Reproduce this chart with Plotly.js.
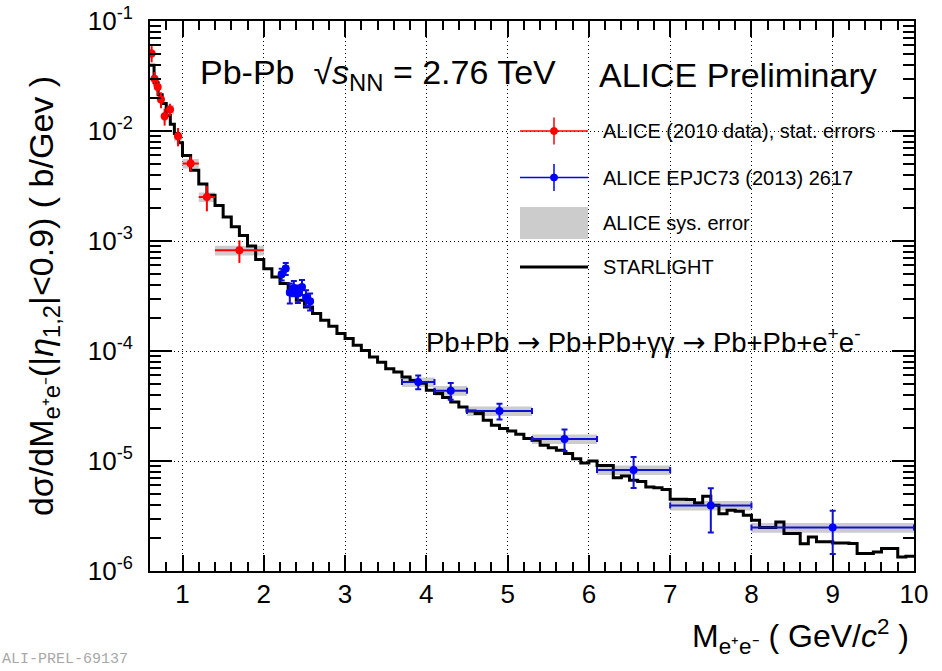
<!DOCTYPE html>
<html><head><meta charset="utf-8">
<script src="https://cdn.plot.ly/plotly-3.0.1.min.js"></script>
<style>html,body{margin:0;padding:0;background:#fff;} #chart{width:942px;height:671px;}</style>
</head><body><div id="chart"></div>
<script>
// ---------------- data ----------------
// ALICE 2010 data (red), stat. errors
const redX = [0.62, 0.655, 0.695, 0.735, 0.78, 0.845, 0.945, 1.1, 1.3, 1.7];
const redY = [0.0506, 0.0299, 0.0251, 0.0193, 0.0136, 0.0157, 0.00895, 0.00506, 0.00251, 0.000822];
const redStat = [0.0085, 0.0045, 0.004, 0.0032, 0.0024, 0.002, 0.0017, 0.0008, 0.00065, 0.00019];
const redHalfWidth = [0.02, 0.0175, 0.02, 0.02, 0.025, 0.05, 0.05, 0.1, 0.1, 0.3];
const redSysRel = [0.1, 0.1, 0.1, 0.1, 0.1, 0.1, 0.1, 0.1, 0.1, 0.1];

// ALICE EPJC73 (2013) 2617 (blue)
const blueX = [2.22, 2.27, 2.32, 2.37, 2.42, 2.47, 2.52, 2.57, 3.9, 4.3, 4.9, 5.7, 6.55, 7.5, 9.0];
const blueY = [4.98e-4, 5.61e-4, 3.40e-4, 3.74e-4, 3.33e-4, 3.82e-4, 3.06e-4, 2.83e-4,
               5.23e-5, 4.36e-5, 2.85e-5, 1.585e-5, 8.28e-6, 3.94e-6, 2.48e-6];
const blueStat = [6e-5, 7e-5, 7e-5, 6e-5, 6e-5, 6e-5, 5e-5, 5e-5,
                  7.5e-6, 7.5e-6, 4.7e-6, 3.5e-6, 2.6e-6, 1.7e-6, 1.05e-6];
const blueHalfWidth = [0.025, 0.025, 0.025, 0.025, 0.025, 0.025, 0.025, 0.025,
                       0.2, 0.2, 0.4, 0.4, 0.45, 0.5, 1.0];
const blueSysRel = [0, 0, 0, 0, 0, 0, 0, 0, 0.1, 0.1, 0.1, 0.1, 0.1, 0.1, 0.1];

// STARLIGHT histogram: bin edges and bin contents
const starEdges = [0.6, 0.65, 0.7, 0.75, 0.8, 0.85, 0.9, 0.95, 1.0,
  1.1, 1.2, 1.3, 1.4, 1.5, 1.6, 1.7, 1.8, 1.9, 2.0,
  2.1, 2.2, 2.3, 2.4, 2.5, 2.6, 2.7, 2.8, 2.9, 3.0,
  3.1, 3.2, 3.3, 3.4, 3.5, 3.6, 3.7, 3.8, 3.9, 4.0,
  4.1, 4.2, 4.3, 4.4, 4.5, 4.6, 4.7, 4.8, 4.9, 5.0,
  5.1, 5.2, 5.3, 5.4, 5.5, 5.6, 5.7, 5.8, 5.9, 6.0,
  6.1, 6.2, 6.3, 6.4, 6.5, 6.6, 6.7, 6.8, 6.9, 7.0,
  7.1, 7.2, 7.3, 7.4, 7.5, 7.6, 7.7, 7.8, 7.9, 8.0,
  8.1, 8.2, 8.3, 8.4, 8.5, 8.6, 8.7, 8.8, 8.9, 9.0,
  9.1, 9.2, 9.3, 9.4, 9.5, 9.6, 9.7, 9.8, 9.9, 10.0];
const starVals = [0.0395, 0.0275, 0.0214, 0.0178, 0.0138, 0.0115, 0.0095, 0.0078,
  0.0060, 0.0044, 0.0033, 0.0026, 0.0021, 0.00165, 0.00135, 0.00112, 0.00090, 0.00068,
  0.00056, 0.00047, 0.00041, 0.000333, 0.000289, 0.000251, 0.000219, 0.00019, 0.000168, 0.000144,
  0.00013, 0.000113, 0.000101, 8.8e-5, 7.9e-5, 6.9e-5, 6.45e-5, 5.8e-5, 5.4e-5, 5.1e-5,
  4.4e-5, 4.1e-5, 3.77e-5, 3.44e-5, 3.09e-5, 2.85e-5, 2.7e-5, 2.35e-5, 2.11e-5, 1.97e-5,
  1.87e-5, 1.75e-5, 1.6e-5, 1.54e-5, 1.39e-5, 1.32e-5, 1.25e-5, 1.17e-5, 1.05e-5, 9.6e-6,
  1.0e-5, 9.1e-6, 9.1e-6, 7.06e-6, 7.3e-6, 6.68e-6, 6.5e-6, 5.8e-6, 5.7e-6, 5.5e-6,
  4.5e-6, 4.5e-6, 4.46e-6, 4.15e-6, 4.78e-6, 3.95e-6, 3.32e-6, 3.56e-6, 3.5e-6, 3.21e-6,
  2.89e-6, 2.48e-6, 2.48e-6, 2.79e-6, 2.19e-6, 2.19e-6, 1.77e-6, 2.04e-6, 1.84e-6, 1.84e-6,
  1.80e-6, 1.80e-6, 1.78e-6, 1.44e-6, 1.44e-6, 1.49e-6, 1.6e-6, 1.6e-6, 1.34e-6, 1.36e-6];

// axis ticks
const yTickVals = [1e-6, 1e-5, 1e-4, 1e-3, 1e-2, 1e-1];
const yTickText = ['10<sup>-6</sup>', '10<sup>-5</sup>', '10<sup>-4</sup>', '10<sup>-3</sup>', '10<sup>-2</sup>', '10<sup>-1</sup>'];

// legend labels
const legendLabels = ['ALICE (2010 data), stat. errors', 'ALICE EPJC73 (2013) 2617', 'ALICE sys. error', 'STARLIGHT'];

// ---------------- build traces ----------------
const sysX = [], sysBase = [], sysH = [], sysW = [];
function addSys(xs, ys, hw, rel) {
  for (let i = 0; i < xs.length; i++) {
    if (rel[i] <= 0) continue;
    sysX.push(xs[i]);
    sysBase.push(ys[i] * (1 - rel[i]));
    sysH.push(ys[i] * 2 * rel[i]);
    sysW.push(2 * hw[i]);
  }
}
addSys(redX, redY, redHalfWidth, redSysRel);
addSys(blueX, blueY, blueHalfWidth, blueSysRel);

const traces = [
  { type: 'bar', x: sysX, y: sysH, base: sysBase, width: sysW,
    marker: { color: '#cccccc', line: { width: 0 } }, showlegend: false, hoverinfo: 'skip', name: 'ALICE sys. error' },
  { type: 'scatter', mode: 'lines', x: starEdges, y: starVals.concat([starVals[starVals.length - 1]]),
    line: { shape: 'hv', color: '#000000', width: 3 }, showlegend: false, name: 'STARLIGHT' },
  { type: 'scatter', mode: 'markers', x: redX, y: redY, name: legendLabels[0], showlegend: false,
    marker: { color: '#ff0000', size: 8 },
    error_y: { type: 'data', array: redStat, color: '#ff0000', thickness: 2, width: 0 },
    error_x: { type: 'data', array: redHalfWidth, color: '#ff0000', thickness: 2, width: 0 } },
  { type: 'scatter', mode: 'markers', x: blueX, y: blueY, name: legendLabels[1], showlegend: false,
    marker: { color: '#0000ff', size: 8 },
    error_y: { type: 'data', array: blueStat, color: '#1010d0', thickness: 2, width: 3 },
    error_x: { type: 'data', array: blueHalfWidth, color: '#1010d0', thickness: 2, width: 3 } }
];

// ---------------- layout ----------------
const W = 942, H = 671, L = 150, R = 28, T = 21, B = 100;
const pw = W - L - R, ph = H - T - B;
const px = v => (v - L) / pw;          // pixel -> paper x
const py = v => (H - B - v) / ph;      // pixel -> paper y

const FONT = 'Liberation Sans, Arial, Helvetica, sans-serif';
const ARROW = '<span style="font-family:DejaVu Sans">→</span>';
const shapes = [];
const annotations = [];

// legend (drawn by hand, ROOT style)
const lx0 = 520, lx1 = 588, lxc = 554, ltx = 601;
const rows = [131, 177.5, 223, 267];
function errLegend(yc, col) {
  shapes.push({ type: 'line', xref: 'paper', yref: 'paper', x0: px(lx0), x1: px(lx1), y0: py(yc), y1: py(yc), line: { color: col, width: 1.5 } });
  shapes.push({ type: 'line', xref: 'paper', yref: 'paper', x0: px(lxc), x1: px(lxc), y0: py(yc - 13.5), y1: py(yc + 13.5), line: { color: col, width: 1.5 } });
  shapes.push({ type: 'circle', xref: 'paper', yref: 'paper', x0: px(lxc - 3.5), x1: px(lxc + 3.5), y0: py(yc - 3.5), y1: py(yc + 3.5), fillcolor: col, line: { color: col, width: 1 } });
}
errLegend(rows[0], '#ff0000');
errLegend(rows[1], '#0000ff');
shapes.push({ type: 'rect', xref: 'paper', yref: 'paper', x0: px(lx0), x1: px(lx1), y0: py(rows[2] - 16), y1: py(rows[2] + 16), fillcolor: '#cccccc', line: { width: 0 } });
shapes.push({ type: 'line', xref: 'paper', yref: 'paper', x0: px(lx0), x1: px(lx1), y0: py(rows[3]), y1: py(rows[3]), line: { color: '#000000', width: 3 } });
legendLabels.forEach((t, i) => annotations.push({
  xref: 'paper', yref: 'paper', x: px(ltx), y: py(rows[i]), xanchor: 'left', yanchor: 'middle',
  text: t, showarrow: false, font: { family: FONT, size: 20, color: '#000' }
}));

// labels on the plot
annotations.push({ xref: 'paper', yref: 'paper', x: px(198), y: py(75), xanchor: 'left', yanchor: 'middle', showarrow: false,
  text: 'Pb-Pb  √<i>s</i><sub>NN</sub> = 2.76 TeV', font: { family: FONT, size: 34, color: '#000' } });
annotations.push({ xref: 'paper', yref: 'paper', x: px(597), y: py(75), xanchor: 'left', yanchor: 'middle', showarrow: false,
  text: 'ALICE Preliminary', font: { family: FONT, size: 34, color: '#000' } });
annotations.push({ xref: 'paper', yref: 'paper', x: px(424), y: py(340), xanchor: 'left', yanchor: 'middle', showarrow: false,
  text: 'Pb+Pb ' + ARROW + ' Pb+Pb+γγ ' + ARROW + ' Pb+Pb+e<sup>+</sup>e<sup>-</sup>', font: { family: FONT, size: 27.5, color: '#000' } });
// x-axis title (ROOT puts it at the right end)
annotations.push({ xref: 'paper', yref: 'paper', x: px(911), y: py(636), xanchor: 'right', yanchor: 'middle', showarrow: false,
  text: 'M<sub>e⁺e⁻</sub> ( GeV/<i>c</i><sup>2</sup> )', font: { family: FONT, size: 32, color: '#000' } });
// preliminary figure id
annotations.push({ xref: 'paper', yref: 'paper', x: px(0), y: py(670), xanchor: 'left', yanchor: 'bottom', showarrow: false,
  text: 'ALI-PREL-69137', font: { family: 'Liberation Mono, Courier New, monospace', size: 15, color: '#a8a8a8' } });

const axisCommon = {
  showline: true, linecolor: '#000', linewidth: 2, mirror: 'allticks',
  ticks: 'inside', tickcolor: '#000', tickwidth: 2,
  showgrid: true, gridcolor: '#000', gridwidth: 1, griddash: '1px,3px',
  zeroline: false, tickfont: { family: FONT, size: 26, color: '#000' }
};

const layout = {
  width: W, height: H,
  margin: { l: L, r: R, t: T, b: B, pad: 0 },
  paper_bgcolor: '#fff', plot_bgcolor: '#fff',
  showlegend: false, barmode: 'overlay',
  font: { family: FONT, color: '#000' },
  xaxis: Object.assign({}, axisCommon, {
    range: [0.6, 10], tickmode: 'linear', tick0: 0, dtick: 1, ticklen: 16,
    minor: { dtick: 0.2, tick0: 0, ticks: 'inside', ticklen: 9, tickwidth: 2, tickcolor: '#000', showgrid: false },
    ticklabelstandoff: -1
  }),
  yaxis: Object.assign({}, axisCommon, {
    type: 'log', range: [-6, -1], tickmode: 'array', tickvals: yTickVals, ticktext: yTickText, ticklen: 22,
    minor: { dtick: 'D1', ticks: 'inside', ticklen: 11, tickwidth: 2, tickcolor: '#000', showgrid: false },
    ticklabelstandoff: 10,
    title: { text: 'dσ/dM<sub>e⁺e⁻</sub>(|<i>η</i><sub>1,2</sub>|&lt;0.9) ( b/Gev )', font: { family: FONT, size: 34, color: '#000' }, standoff: 24 },
    automargin: false
  }),
  shapes: shapes,
  annotations: annotations
};

Plotly.newPlot('chart', traces, layout, { displayModeBar: false, staticPlot: true });
</script></body></html>
